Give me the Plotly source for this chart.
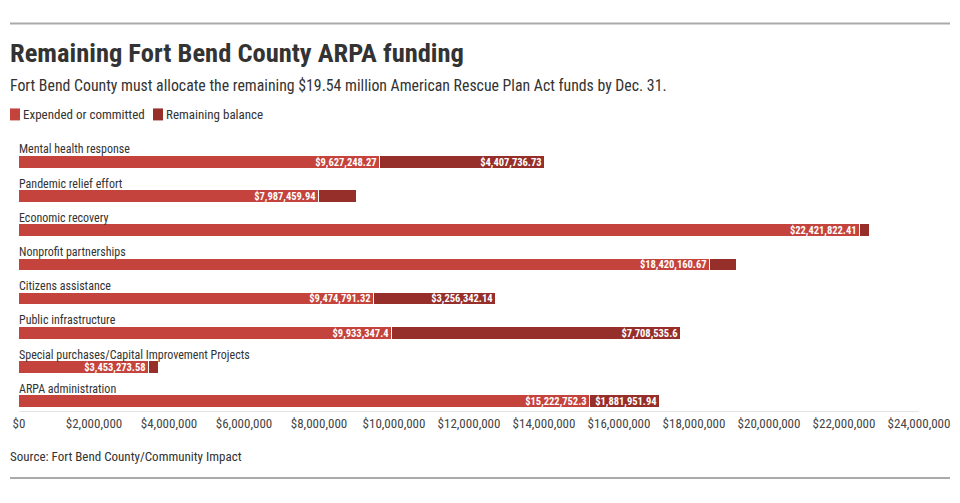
import plotly.graph_objects as go

categories = [
    "Mental health response",
    "Pandemic relief effort",
    "Economic recovery",
    "Nonprofit partnerships",
    "Citizens assistance",
    "Public infrastructure",
    "Special purchases/Capital Improvement Projects",
    "ARPA administration",
]
expended = [9627248.27, 7987459.94, 22421822.41, 18420160.67, 9474791.32, 9933347.4, 3453273.58, 15222752.3]
remaining = [4407736.73, 1020000, 260000, 730000, 3256342.14, 7708535.6, 275000, 1881951.94]
tick_vals = [0, 2e6, 4e6, 6e6, 8e6, 10e6, 12e6, 14e6, 16e6, 18e6, 20e6, 22e6, 24e6]
tick_text = ["$0", "$2,000,000", "$4,000,000", "$6,000,000", "$8,000,000", "$10,000,000",
             "$12,000,000", "$14,000,000", "$16,000,000", "$18,000,000", "$20,000,000",
             "$22,000,000", "$24,000,000"]
series_names = ["Expended or committed", "Remaining balance"]

FONT = "Roboto Condensed, Liberation Sans Narrow, DejaVu Sans Condensed, sans-serif"
C_EXP = "#c4433c"
C_REM = "#962f29"

# page offset (body margin) and figure size
OFF = 8
W, H = 944, 487
# plot area in page pixels
PX0, PX1, PY0, PY1 = 19, 919, 134.6, 411
L, R, T, B = PX0 - OFF, W - (PX1 - OFF), PY0 - OFF, H - (PY1 - OFF)
PW, PH = PX1 - PX0, PY1 - PY0


def px_x(p):
    return (p - PX0) / PW


def px_y(p):
    return (PY1 - p) / PH


def fmt(v):
    s = f"${v:,.2f}"
    s = s.rstrip("0").rstrip(".")
    return s


def labels(vals):
    return [fmt(v) if v >= 1.5e6 else "" for v in vals]


ypos = list(range(len(categories)))

fig = go.Figure()
for vals, name, col in [(expended, series_names[0], C_EXP), (remaining, series_names[1], C_REM)]:
    fig.add_trace(go.Bar(
        y=ypos, x=vals, orientation="h", name=name,
        marker=dict(color=col, line=dict(color="white", width=1)),
        width=0.37, text=labels(vals), textposition="inside", insidetextanchor="end",
        textfont=dict(family=FONT, size=10.5, color="white", weight="bold"),
        hoverinfo="skip", showlegend=False,
    ))

for i, c in enumerate(categories):
    fig.add_annotation(x=0, y=i, xref="x", yref="y", text=c, showarrow=False,
                       xanchor="left", yanchor="middle", yshift=13, xshift=-2,
                       font=dict(family=FONT, size=12, color="#333"))

fig.add_annotation(xref="paper", yref="paper", x=px_x(8), y=px_y(52),
                   text="<b>Remaining Fort Bend County ARPA funding</b>",
                   showarrow=False, xanchor="left", yanchor="middle",
                   font=dict(family=FONT, size=26.5, color="#333"))
fig.add_annotation(xref="paper", yref="paper", x=px_x(8), y=px_y(85),
                   text="Fort Bend County must allocate the remaining $19.54 million American Rescue Plan Act funds by Dec. 31.",
                   showarrow=False, xanchor="left", yanchor="middle",
                   font=dict(family=FONT, size=15.8, color="#333"))
fig.add_annotation(xref="paper", yref="paper", x=px_x(8), y=px_y(457),
                   text="Source: Fort Bend County/Community Impact",
                   showarrow=False, xanchor="left", yanchor="middle",
                   font=dict(family=FONT, size=13, color="#333"))

# manual legend
leg_x = [10, 153]
for (x0, name, col) in zip(leg_x, series_names, [C_EXP, C_REM]):
    fig.add_shape(type="rect", xref="paper", yref="paper", x0=px_x(x0), x1=px_x(x0 + 10),
                  y0=px_y(120), y1=px_y(108), fillcolor=col, line=dict(width=0))
    fig.add_annotation(xref="paper", yref="paper", x=px_x(x0 + 11), y=px_y(114), text=name,
                       showarrow=False, xanchor="left", yanchor="middle",
                       font=dict(family=FONT, size=13, color="#333"))

for yy in [23, 478]:
    fig.add_shape(type="line", xref="paper", yref="paper", x0=px_x(10), x1=px_x(950),
                  y0=px_y(yy), y1=px_y(yy), line=dict(color="#aaaaaa", width=2))

fig.update_layout(
    width=W, height=H,
    margin=dict(l=L, r=R, t=T, b=B, autoexpand=False),
    paper_bgcolor="white", plot_bgcolor="white",
    barmode="stack", bargap=0,
    showlegend=False,
    uniformtext=dict(minsize=10.5, mode="show"),
    xaxis=dict(range=[0, 24e6], tickvals=tick_vals, ticktext=tick_text, showgrid=False,
               zeroline=False, showline=True, linecolor="#e4e4e4", linewidth=1,
               tickfont=dict(family=FONT, size=13, color="#444"), ticks="", fixedrange=True),
    yaxis=dict(range=[7.27, -0.8], showticklabels=False, showgrid=False, zeroline=False,
               showline=False, fixedrange=True),
    font=dict(family=FONT),
)

fig.write_html("out.html")
